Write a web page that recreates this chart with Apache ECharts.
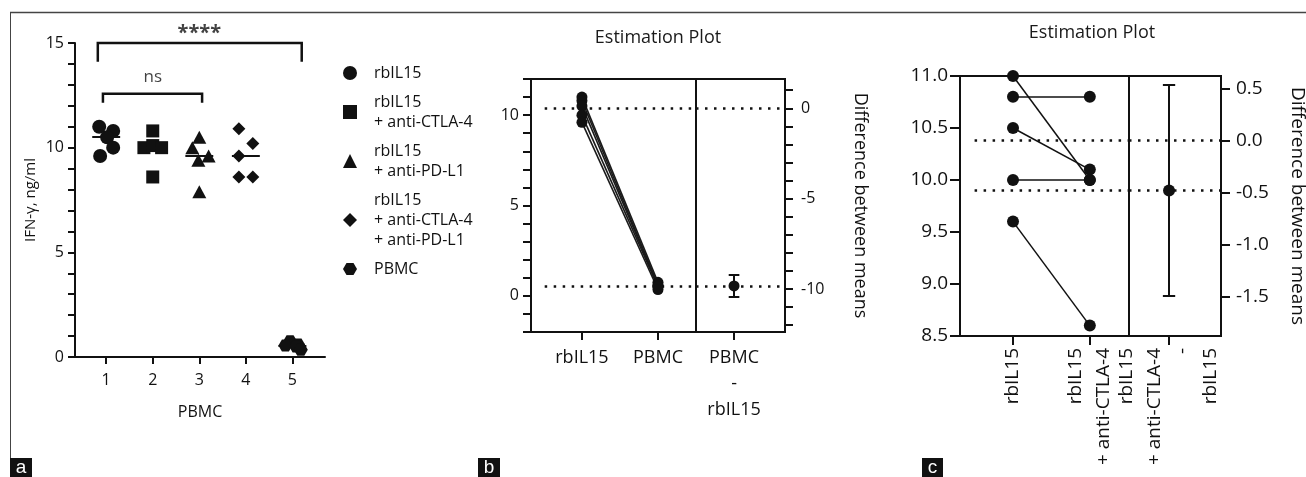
<!DOCTYPE html>
<html><head><meta charset="utf-8">
<script src="https://cdn.jsdelivr.net/npm/echarts@6/dist/echarts.min.js"></script>
<style>html,body{margin:0;padding:0;background:#fff}#c{width:1306px;height:477px}</style>
</head><body><div id="c"></div>
<script>
// ---------- data ----------
const groupNames = ['rbIL15', 'rbIL15\n+ anti-CTLA-4', 'rbIL15\n+ anti-PD-L1', 'rbIL15\n+ anti-CTLA-4\n+ anti-PD-L1', 'PBMC'];
const groupTicks = ['1', '2', '3', '4', '5'];
const rbIL15  = [11.0, 10.8, 10.5, 10.0, 9.6];
const rbCTLA4 = [10.0, 10.8, 10.1, 10.0, 8.6];
const rbPDL1  = [10.5, 10.0, 9.6, 9.4, 7.9];
const rbBoth  = [10.9, 10.2, 9.6, 8.6, 8.6];
const pbmc    = [0.75, 0.6, 0.55, 0.5, 0.35];
const jitter = [
  [-0.15, 0.15, 0.02, 0.15, -0.13],
  [-0.19, 0, 0, 0.19, 0],
  [0, -0.15, 0.2, -0.02, 0],
  [-0.15, 0.15, -0.15, -0.15, 0.15],
  [-0.05, 0.12, -0.15, 0.08, 0.18]
];
const sigPairs = [[1, 5], [1, 3]];
const sigHeights = [15, 12.57];
const sigLabels = ['****', 'ns'];
const pairLabelsB = ['rbIL15', 'PBMC'];
const diffLabelB = 'PBMC\n-\nrbIL15';
const ciB = [-10.43, -9.22];
const pairLabelsC = ['rbIL15', 'rbIL15\n+ anti-CTLA-4'];
const diffLabelC = 'rbIL15\n+ anti-CTLA-4\n-\nrbIL15';
const ciC = [-1.49, 0.54];

// ---------- helpers ----------
const FONT = '"Open Sans", sans-serif';
const BLACK = '#111';
const mean = a => a.reduce((s, v) => s + v, 0) / a.length;
const median = a => { const s = [...a].sort((x, y) => x - y); const m = s.length >> 1; return s.length % 2 ? s[m] : (s[m - 1] + s[m]) / 2; };
const range = (a, b, st) => { const r = []; for (let v = a; v <= b + 1e-9; v += st) r.push(+v.toFixed(6)); return r; };
const hexPath = 'path://M-1,0L-0.5,-0.866L0.5,-0.866L1,0L0.5,0.866L-0.5,0.866Z';
const symbols = ['circle', 'rect', 'triangle', 'diamond', hexPath];
const symSizes = [14, 13, [14, 13], 13, 14];
const groups = [rbIL15, rbCTLA4, rbPDL1, rbBoth, pbmc];

const mRb = mean(rbIL15), mPb = mean(pbmc), mCt = mean(rbCTLA4);

const gridBase = { containLabel: false, outerBoundsMode: 'none' };
const frame = { show: true, borderColor: BLACK, borderWidth: 2, backgroundColor: 'transparent' };
const grids = [
  Object.assign({ left: 75, top: 43, width: 250, height: 314 }, gridBase),
  Object.assign({ left: 531, top: 79, width: 165, height: 253 }, gridBase, frame),
  Object.assign({ left: 696, top: 79, width: 89, height: 253 }, gridBase, frame),
  Object.assign({ left: 960, top: 76, width: 169, height: 260 }, gridBase, frame),
  Object.assign({ left: 1129, top: 76, width: 92, height: 260 }, gridBase, frame)
];
const line2 = { show: true, onZero: false, lineStyle: { color: BLACK, width: 2 } };
const tick = (len, vals) => Object.assign({ show: true, length: len, lineStyle: { color: BLACK, width: 2 } }, vals ? { customValues: vals } : {});
const lab = (size, extra) => Object.assign({ fontFamily: FONT, fontSize: size, color: BLACK }, extra);
const noSplit = { show: false };

const bRange = [-2, 12], cRange = [8.5, 11];
const xB1 = [-0.67, 1.5], xB2 = [-0.5, 0.67], xC1 = [-0.69, 1.51], xC2 = [-0.52, 0.675];
const cRightTicks = range(Math.ceil((cRange[0] - mRb) * 2) / 2, Math.floor((cRange[1] - mRb) * 2) / 2, 0.5);

const xAxis = [
  { type: 'value', gridIndex: 0, min: 0.33, max: 5.7, axisLine: line2, splitLine: noSplit,
    axisTick: tick(7, groupTicks.map((_, i) => i + 1)),
    axisLabel: lab(16, { customValues: groupTicks.map((_, i) => i + 1), formatter: v => groupTicks[Math.round(v) - 1], margin: 15 }),
    name: 'PBMC', nameLocation: 'middle', nameGap: 47, nameTextStyle: lab(16) },
  { type: 'value', gridIndex: 1, min: xB1[0], max: xB1[1], axisLine: line2, splitLine: noSplit,
    axisTick: tick(8, [0, 1]),
    axisLabel: lab(18, { customValues: [0, 1], formatter: v => pairLabelsB[Math.round(v)], margin: 13, lineHeight: 26 }) },
  { type: 'value', gridIndex: 2, min: xB2[0], max: xB2[1], axisLine: line2, splitLine: noSplit,
    axisTick: tick(8, [0]),
    axisLabel: lab(18, { customValues: [0], formatter: () => diffLabelB, margin: 13, lineHeight: 26 }) },
  { type: 'value', gridIndex: 3, min: xC1[0], max: xC1[1], axisLine: line2, splitLine: noSplit,
    axisTick: tick(9, [0, 1]),
    axisLabel: lab(19, { customValues: [0, 1], formatter: v => pairLabelsC[Math.round(v)], margin: 12, lineHeight: 28, rotate: 90 }) },
  { type: 'value', gridIndex: 4, min: xC2[0], max: xC2[1], axisLine: line2, splitLine: noSplit,
    axisTick: tick(9, [0]),
    axisLabel: lab(19, { customValues: [0], formatter: () => diffLabelC, margin: 12, lineHeight: 28, rotate: 90 }) }
];

const yAxis = [
  { type: 'value', gridIndex: 0, min: 0, max: 15, interval: 5, axisLine: line2, splitLine: noSplit,
    axisTick: tick(7), minorTick: { show: true, splitNumber: 5, length: 7, lineStyle: { color: BLACK, width: 2 } }, minorSplitLine: noSplit,
    axisLabel: lab(16, { margin: 11 }),
    name: 'IFN-γ, ng/ml', nameLocation: 'middle', nameGap: 37, nameTextStyle: lab(15) },
  { type: 'value', gridIndex: 1, min: bRange[0], max: bRange[1], interval: 1, axisLine: line2, splitLine: noSplit,
    axisTick: tick(8, range(bRange[0], bRange[1], 1)),
    axisLabel: lab(16, { customValues: [0, 5, 10], margin: 12 }) },
  { type: 'value', gridIndex: 2, position: 'right', min: bRange[0] - mRb, max: bRange[1] - mRb, axisLine: line2, splitLine: noSplit,
    axisTick: tick(8, range(Math.ceil(bRange[0] - mRb), Math.floor(bRange[1] - mRb), 1)),
    axisLabel: lab(16, { customValues: [-10, -5, 0], margin: 16 }),
    name: 'Difference between means', nameLocation: 'middle', nameRotate: -90, nameGap: 66, nameTextStyle: lab(18) },
  { type: 'value', gridIndex: 3, min: cRange[0], max: cRange[1], interval: 0.5, axisLine: line2, splitLine: noSplit,
    axisTick: tick(10),
    axisLabel: lab(19, { formatter: v => v.toFixed(1), margin: 12 }) },
  { type: 'value', gridIndex: 4, position: 'right', min: cRange[0] - mRb, max: cRange[1] - mRb, axisLine: line2, splitLine: noSplit,
    axisTick: tick(9, cRightTicks),
    axisLabel: lab(19, { customValues: cRightTicks, formatter: v => v.toFixed(1), margin: 15 }),
    name: 'Difference between means', nameLocation: 'middle', nameRotate: -90, nameGap: 67, nameTextStyle: lab(19) }
];

const series = [];
const ax = (i) => ({ xAxisIndex: i, yAxisIndex: i });
const linesS = (i, data, style, extra) => Object.assign({ type: 'lines', coordinateSystem: 'cartesian2d', silent: true, clip: false,
  lineStyle: Object.assign({ color: BLACK, width: 2, opacity: 1, curveness: 0 }, style), data, z: 3 }, ax(i), extra || {});
const dots = (i, data, size, extra) => Object.assign({ type: 'scatter', symbol: 'circle', symbolSize: size, itemStyle: { color: BLACK, opacity: 1 }, data, z: 5, silent: true }, ax(i), extra || {});

// Panel a
groups.forEach((vals, g) => {
  series.push(Object.assign({ type: 'scatter', name: groupNames[g], symbol: symbols[g], symbolSize: symSizes[g], symbolKeepAspect: true,
    itemStyle: { color: BLACK, opacity: 1 }, data: vals.map((v, i) => [g + 1 + jitter[g][i], v]), z: 4, clip: false }, ax(0)));
});
series.push(linesS(0, groups.map((vals, g) => ({ coords: [[g + 0.7, median(vals)], [g + 1.3, median(vals)]] })), { width: 2 }, { z: 6 }));
const bracketExt = [[0.18, 0.2], [0.07, 0.06]];
const bracketLeg = [0.9, 0.43];
series.push(linesS(0, sigPairs.map((p, k) => ({ coords: [
  [p[0] - bracketExt[k][0], sigHeights[k] - bracketLeg[k]], [p[0] - bracketExt[k][0], sigHeights[k]],
  [p[1] + bracketExt[k][1], sigHeights[k]], [p[1] + bracketExt[k][1], sigHeights[k] - bracketLeg[k]]] })), { width: 2.5 }, { polyline: true }));
series.push(Object.assign({ type: 'scatter', symbolSize: 1, itemStyle: { color: 'rgba(0,0,0,0)' }, clip: false, silent: true,
  data: sigPairs.map((p, k) => ({ value: [(p[0] + p[1]) / 2, sigHeights[k] + [0.45, 0.78][k]],
    label: { show: true, position: 'inside', formatter: sigLabels[k], fontFamily: FONT, color: BLACK,
      fontSize: k === 0 ? 20 : 17, fontWeight: k === 0 ? 'bold' : 'normal' } })) }, ax(0)));

// Panel b
series.push(linesS(1, rbIL15.map((v, i) => ({ coords: [[0, v], [1, pbmc[i]]] })), { width: 1.6, color: '#1a1a1a' }));
series.push(dots(1, [...rbIL15.map(v => [0, v]), ...pbmc.map(v => [1, v])], 11));
const dotStyle = { width: 2.5, type: [2.5, 6.5], color: BLACK };
series.push(linesS(1, [mRb, mPb].map(y => ({ coords: [[xB1[0] + 0.18, y], [xB1[1], y]] })), dotStyle));
series.push(linesS(2, [0, mPb - mRb].map(y => ({ coords: [[xB2[0], y], [xB2[1], y]] })), dotStyle));
const capB = 0.07;
series.push(linesS(2, [{ coords: [[0, ciB[0]], [0, ciB[1]]] }, { coords: [[-capB, ciB[0]], [capB, ciB[0]]] }, { coords: [[-capB, ciB[1]], [capB, ciB[1]]] }], { width: 2 }));
series.push(dots(2, [[0, mPb - mRb]], 11));

// Panel c
series.push(linesS(3, rbIL15.map((v, i) => ({ coords: [[0, v], [1, rbCTLA4[i]]] })), { width: 1.5 }));
series.push(dots(3, [...rbIL15.map(v => [0, v]), ...rbCTLA4.map(v => [1, v])], 12, { clip: false }));
series.push(linesS(3, [mRb, mCt].map(y => ({ coords: [[xC1[0] + 0.19, y], [xC1[1], y]] })), dotStyle));
series.push(linesS(4, [0, mCt - mRb].map(y => ({ coords: [[xC2[0], y], [xC2[1], y]] })), dotStyle));
const capC = 0.08;
series.push(linesS(4, [{ coords: [[0, ciC[0]], [0, ciC[1]]] }, { coords: [[-capC, ciC[0]], [capC, ciC[0]]] }, { coords: [[-capC, ciC[1]], [capC, ciC[1]]] }], { width: 2 }));
series.push(dots(4, [[0, mCt - mRb]], 12));

const titleText = (x, y, text) => ({ type: 'text', x, y, silent: true,
  style: { text, fill: '#1a1a1a', fontSize: 18, fontFamily: FONT, align: 'center', verticalAlign: 'middle', textAlign: 'center', textVerticalAlign: 'middle' } });
const panelTag = (x, w, letter) => ({ type: 'group', silent: true, children: [
  { type: 'rect', shape: { x, y: 458, width: w, height: 19 }, style: { fill: '#111' } },
  { type: 'text', x: x + w / 2, y: 468, style: { text: letter, fill: '#fff', fontSize: 19, fontFamily: '"Liberation Sans", Arial, sans-serif',
      align: 'center', verticalAlign: 'middle', textAlign: 'center', textVerticalAlign: 'middle' } }] });

const option = {
  animation: false,
  backgroundColor: '#fff',
  grid: grids, xAxis, yAxis, series,
  legend: { data: groupNames, orient: 'vertical', left: 338, top: 58, itemGap: 9, itemWidth: 14, itemHeight: 14,
    selectedMode: false, symbolKeepAspect: true,
    textStyle: { fontFamily: FONT, fontSize: 16, lineHeight: 20, color: BLACK, padding: [0, 0, 0, 12] } },
  graphic: [
    { type: 'line', silent: true, shape: { x1: 10, y1: 12.5, x2: 1306, y2: 12.5 }, style: { stroke: '#444', lineWidth: 1.5 } },
    { type: 'line', silent: true, shape: { x1: 10.5, y1: 12, x2: 10.5, y2: 458 }, style: { stroke: '#444', lineWidth: 1 } },
    titleText(658, 38, 'Estimation Plot'),
    titleText(1092, 33, 'Estimation Plot'),
    panelTag(10, 22, 'a'), panelTag(478, 22, 'b'), panelTag(922, 21, 'c')
  ]
};
const chart = echarts.init(document.getElementById('c'), null, { renderer: 'canvas' });
chart.setOption(option);
</script></body></html>
